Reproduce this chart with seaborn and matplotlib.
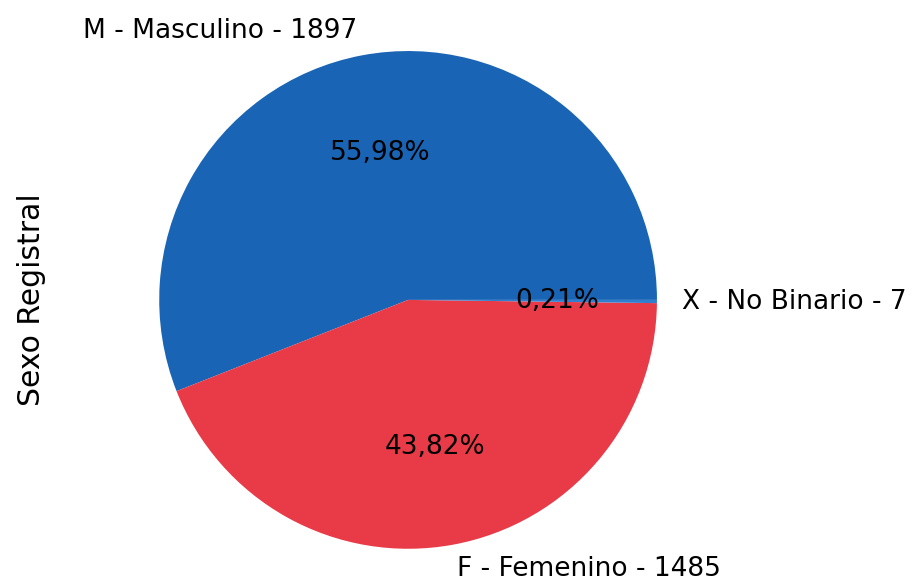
import matplotlib
matplotlib.use("Agg")
import matplotlib.pyplot as plt
import seaborn as sns

categories = ["M - Masculino", "F - Femenino", "X - No Binario"]
counts = [1897, 1485, 7]
colors = ["#1964b4", "#e83a47", "#2f7fd0"]

sns.set_style("white")
plt.rcParams['font.family'] = ['DejaVu Sans']
plt.rcParams['text.color'] = 'black'
plt.rcParams['axes.labelcolor'] = 'black'

fig = plt.figure(figsize=(9.15, 5.82), dpi=100)
ax = fig.add_axes([0.106, -0.0498, 0.680, 1.069])

labels = [f"{c} - {n}" for c, n in zip(categories, counts)]

def fmt(p):
    return f"{p:.2f}%".replace(".", ",")

wedges, texts, autotexts = ax.pie(counts, labels=labels, colors=colors,
                                  autopct=fmt, startangle=0,
                                  wedgeprops={"linewidth": 0},
                                  textprops={"fontsize": 19, "color": "black"})
ax.set_xlim(-1.25, 1.25)
ax.set_ylim(-1.25, 1.25)
ax.set_aspect("equal")
ax.set_ylabel("Sexo Registral", fontsize=21.5, color="black")
ax.yaxis.set_label_coords(-0.082, 0.5)
for s in ax.spines.values():
    s.set_visible(False)

fig.savefig("out.png", dpi=100)
